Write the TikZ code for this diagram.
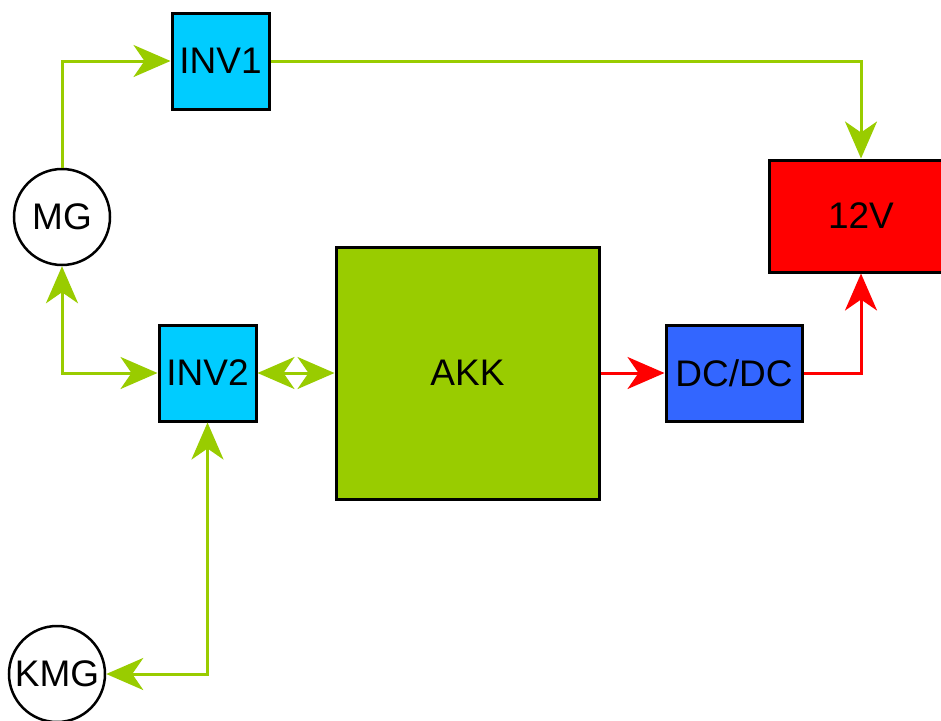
\documentclass[tikz,border=0pt]{standalone}
\usepackage{fontspec}
\setmainfont{Liberation Sans}
\usetikzlibrary{arrows.meta}
\definecolor{lgreen}{HTML}{99CC00}
\definecolor{cyanbox}{HTML}{00CCFF}
\definecolor{bluebox}{HTML}{3366FF}
\definecolor{redbox}{HTML}{FF0000}
\tikzset{
  box/.style={draw=black, line width=3pt, rectangle, inner sep=0pt, font=\fontsize{37}{44}\selectfont},
  circ/.style={draw=black, line width=2.5pt, circle, fill=white, inner sep=0pt, minimum size=96pt, font=\fontsize{37}{44}\selectfont},
  mytip/.tip={Stealth[length=37pt, width=32pt, inset=11pt]},
  gline/.style={draw=lgreen, line width=3pt},
  rline/.style={draw=redbox, line width=3pt},
}
\begin{document}
\begin{tikzpicture}[x=1pt,y=-1pt]
\useasboundingbox (0,0) rectangle (941,720);
\clip (0,0) rectangle (941,720);
\node[box, fill=cyanbox, minimum width=97pt, minimum height=96pt] (INV1) at (220.5,61) {INV1};
\node[box, fill=cyanbox, minimum width=97pt, minimum height=96pt] (INV2) at (207.5,373) {INV2};
\node[box, fill=lgreen, minimum width=263pt, minimum height=252pt] (AKK) at (467.5,373) {AKK};
\node[box, fill=bluebox, minimum width=136pt, minimum height=96pt] (DCDC) at (734,373) {DC/DC};
\node[box, fill=redbox, minimum width=184pt, minimum height=112pt] (V12) at (861,216) {12V};
\node[circ] (MG) at (62,217) {MG};
\node[circ] (KMG) at (57,674) {KMG};
\draw[gline, -mytip] (MG.north) |- (INV1.west);
\draw[gline, -mytip] (INV1.east) -| (V12.north);
\draw[gline, mytip-mytip] (MG.south) |- (INV2.west);
\draw[gline, mytip-mytip] (INV2.east) -- (AKK.west);
\draw[gline, mytip-mytip] (INV2.south) |- (KMG.east);
\draw[rline, -mytip] (AKK.east) -- (DCDC.west);
\draw[rline, -mytip] (DCDC.east) -| (V12.south);
\end{tikzpicture}
\end{document}
